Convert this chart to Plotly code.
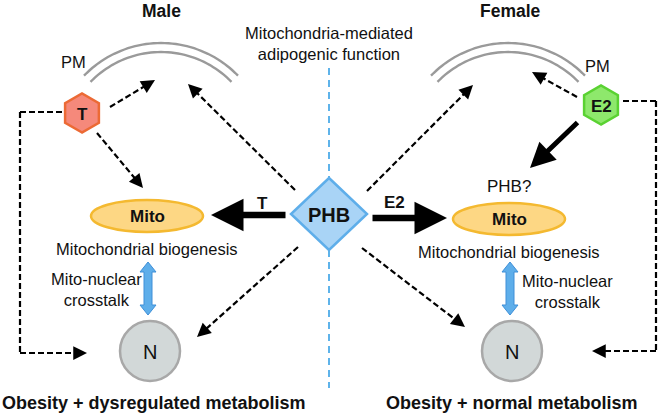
import math
import plotly.graph_objects as go

# text content of the diagram
side_titles = ["Male", "Female"]
center_title = "Mitochondria-mediated<br>adipogenic function"
hormones = ["T", "E2"]
outcomes = ["Obesity + dysregulated metabolism", "Obesity + normal metabolism"]
biogenesis = "Mitochondrial biogenesis"
crosstalk = "Mito-nuclear<br>crosstalk"

# diagram layout (pixel space)
W, H = 658, 415
hex_pos = [(82, 113), (601, 105)]
mito_pos = [(147, 216), (509, 219)]
nuc_pos = [(150, 351), (512, 351)]
phb_pos = (329, 214)
pm_centers = [(161, 150), (508, 150)]

FONT = "Arial, Liberation Sans, Helvetica, sans-serif"
shapes = []
annots = []


def text(x, y, s, size=16.5, bold=False, color="#111", xanchor="center"):
    annots.append(dict(x=x, y=y, text=f"<b>{s}</b>" if bold else s, showarrow=False,
                       xanchor=xanchor, yanchor="middle",
                       font=dict(family=FONT, size=size, color=color)))


def dashed_arrow(x0, y0, x1, y1, head=True):
    d = math.hypot(x1 - x0, y1 - y0)
    ux, uy = (x1 - x0) / d, (y1 - y0) / d
    ex, ey = (x1 - 5 * ux, y1 - 5 * uy) if head else (x1, y1)
    shapes.append(dict(type="line", x0=x0, y0=y0, x1=ex, y1=ey,
                       line=dict(color="black", width=2.2, dash="6px,3px")))
    if head:
        annots.append(dict(x=x1, y=y1, ax=x1 - 8 * ux, ay=y1 - 8 * uy,
                           xref="x", yref="y", axref="x", ayref="y", text="",
                           showarrow=True, arrowhead=2, arrowsize=1.25, arrowwidth=2.2,
                           arrowcolor="black", standoff=0))


def thick_arrow(x0, y0, x1, y1, w=6.5, size=1.0):
    annots.append(dict(x=x1, y=y1, ax=x0, ay=y0, xref="x", yref="y", axref="x", ayref="y",
                       text="", showarrow=True, arrowhead=2, arrowsize=size, arrowwidth=w,
                       arrowcolor="black", standoff=0))


def path(pts, close=True):
    s = "M " + " L ".join(f"{x:.1f} {y:.1f}" for x, y in pts)
    return s + (" Z" if close else "")


# blue dashed divider
for ya, yb in [(68, 180), (250, 388)]:
    shapes.append(dict(type="line", x0=329, x1=329, y0=ya, y1=yb,
                       line=dict(color="#5eb3ea", width=2, dash="7px,5px")))

# plasma membrane double arcs
for cx, cy in pm_centers:
    for r in (107, 98):
        pts = [(cx + r * math.sin(math.radians(a)), cy - r * math.cos(math.radians(a)))
               for a in range(-46, 47, 2)]
        shapes.append(dict(type="path", path=path(pts, close=False),
                           line=dict(color="#9a9a9a", width=2.4)))
text(73, 62, "PM")
text(597, 66, "PM")

# dashed arrows
dashed_arrow(110, 107, 155, 80)
dashed_arrow(97, 133, 143, 188)
dashed_arrow(295, 190, 188, 84)
dashed_arrow(298, 247, 197, 337)
dashed_arrow(367, 191, 473, 85)
dashed_arrow(577, 97, 532, 72)
dashed_arrow(362, 248, 465, 327)
# elbow connectors
dashed_arrow(62, 112, 20, 112, head=False)
dashed_arrow(20, 112, 20, 353, head=False)
dashed_arrow(20, 353, 87, 353)
dashed_arrow(623, 101, 656, 101, head=False)
dashed_arrow(656, 101, 656, 351, head=False)
dashed_arrow(656, 351, 592, 351)

# thick solid arrows
thick_arrow(287, 215, 211, 215)
thick_arrow(371, 218, 447, 218)
thick_arrow(579, 121, 530, 168, w=5, size=1.0)
text(262, 203, "T", size=17, bold=True)
text(394, 202, "E2", size=17, bold=True)

# hormone hexagons
hex_style = [("#f5897b", "#ec6a35"), ("#8ee86c", "#5ad232")]
for (cx, cy), lab, (fill, edge) in zip(hex_pos, hormones, hex_style):
    pts = [(cx + 19.5 * math.cos(math.radians(90 + 60 * k)),
            cy + 19.5 * math.sin(math.radians(90 + 60 * k))) for k in range(6)]
    shapes.append(dict(type="path", path=path(pts), fillcolor=fill,
                       line=dict(color=edge, width=2.5)))
    text(cx, cy + 1, lab, size=17, bold=True)

# PHB diamond
px, py = phb_pos
shapes.append(dict(type="path",
                   path=path([(px, py - 36), (px + 38, py), (px, py + 36), (px - 38, py)]),
                   fillcolor="#a9d4f6", line=dict(color="#5eaeea", width=2.5)))
text(px, py + 1, "PHB", size=20, bold=True)

# mitochondria
for cx, cy in mito_pos:
    shapes.append(dict(type="circle", x0=cx - 56, x1=cx + 56, y0=cy - 16, y1=cy + 16,
                       fillcolor="#fdd784", line=dict(color="#f4b930", width=2.5)))
    text(cx, cy, "Mito", size=17, bold=True)
    text(cx, cy + 33, biogenesis)
text(509, 186, "PHB?", size=17)

# mito-nuclear double arrows
for cx in [148, 510]:
    y0, y1 = 262, 315
    pts = [(cx, y0), (cx + 8, y0 + 10), (cx + 4, y0 + 10), (cx + 4, y1 - 10),
           (cx + 8, y1 - 10), (cx, y1), (cx - 8, y1 - 10), (cx - 4, y1 - 10),
           (cx - 4, y0 + 10), (cx - 8, y0 + 10)]
    shapes.append(dict(type="path", path=path(pts), fillcolor="#5eaeea",
                       line=dict(color="#3f8fd8", width=1)))
text(96, 289, crosstalk)
text(567, 291, crosstalk)

# nuclei
for cx, cy in nuc_pos:
    shapes.append(dict(type="circle", x0=cx - 30, x1=cx + 30, y0=cy - 30, y1=cy + 30,
                       fillcolor="#d2d8d8", line=dict(color="#a8a8a8", width=2.5)))
    text(cx, cy + 1, "N", size=20)

# titles
text(161, 11, side_titles[0], size=17.5, bold=True)
text(510, 11, side_titles[1], size=17.5, bold=True)
text(329, 43, center_title)
text(154, 403, outcomes[0], size=18, bold=True)
text(512, 403, outcomes[1], size=18, bold=True)

fig = go.Figure()
fig.update_layout(width=W, height=H, margin=dict(l=0, r=0, t=0, b=0),
                  paper_bgcolor="white", plot_bgcolor="white",
                  xaxis=dict(range=[0, W], visible=False, fixedrange=True),
                  yaxis=dict(range=[H, 0], visible=False, fixedrange=True),
                  shapes=shapes, annotations=annots, showlegend=False)
fig.write_html("out.html", config={"displayModeBar": False},
               post_script="document.body.style.margin='0';")
